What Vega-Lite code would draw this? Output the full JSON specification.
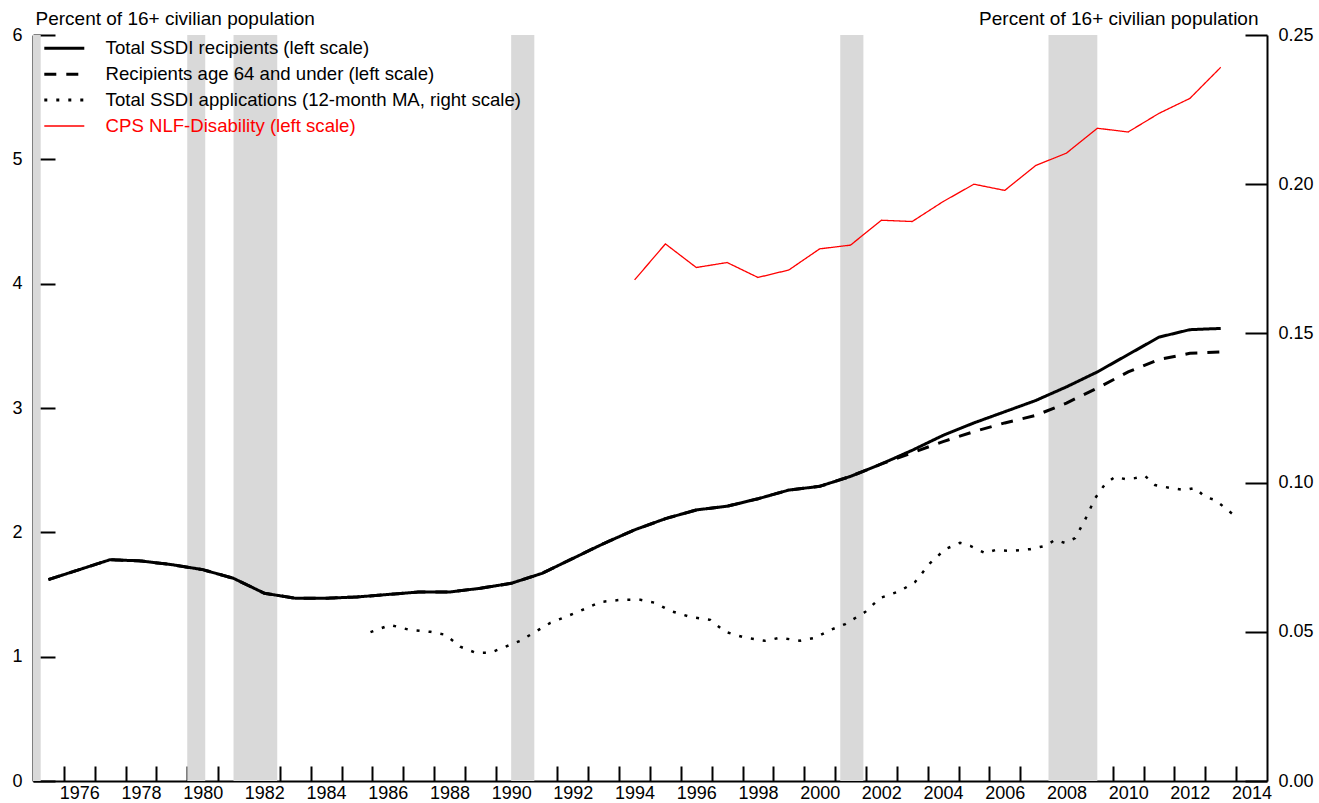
{
  "$schema": "https://vega.github.io/schema/vega-lite/v6.json",
  "width": 1234,
  "height": 746,
  "autosize": {"type": "none"},
  "padding": {"left": 33, "top": 35, "right": 52, "bottom": 22},
  "background": "white",
  "config": {
    "view": {"stroke": null},
    "font": "Liberation Sans",
    "legend": {
      "orient": "none",
      "legendX": 22,
      "legendY": 4,
      "padding": 0,
      "labelFontSize": 18.6,
      "labelFont": "Liberation Sans",
      "labelColor": "black",
      "symbolType": "stroke",
      "symbolSize": 1600,
      "labelOffset": 32,
      "rowPadding": 6.9,
      "labelLimit": 700
    }
  },
  "datasets": {
    "recessions": [
      {"t": 1973.83, "t_end": 1975.25},
      {"t": 1980.0, "t_end": 1980.583},
      {"t": 1981.5, "t_end": 1982.917},
      {"t": 1990.5, "t_end": 1991.25},
      {"t": 2001.167, "t_end": 2001.917},
      {"t": 2007.917, "t_end": 2009.5}
    ],
    "age64": [
      {"t": 1975.5, "v": 1.62, "series": "Recipients age 64 and under (left scale)"},
      {"t": 1976.5, "v": 1.70, "series": "Recipients age 64 and under (left scale)"},
      {"t": 1977.5, "v": 1.78, "series": "Recipients age 64 and under (left scale)"},
      {"t": 1978.5, "v": 1.77, "series": "Recipients age 64 and under (left scale)"},
      {"t": 1979.5, "v": 1.74, "series": "Recipients age 64 and under (left scale)"},
      {"t": 1980.5, "v": 1.70, "series": "Recipients age 64 and under (left scale)"},
      {"t": 1981.5, "v": 1.63, "series": "Recipients age 64 and under (left scale)"},
      {"t": 1982.5, "v": 1.51, "series": "Recipients age 64 and under (left scale)"},
      {"t": 1983.5, "v": 1.47, "series": "Recipients age 64 and under (left scale)"},
      {"t": 1984.5, "v": 1.47, "series": "Recipients age 64 and under (left scale)"},
      {"t": 1985.5, "v": 1.48, "series": "Recipients age 64 and under (left scale)"},
      {"t": 1986.5, "v": 1.50, "series": "Recipients age 64 and under (left scale)"},
      {"t": 1987.5, "v": 1.52, "series": "Recipients age 64 and under (left scale)"},
      {"t": 1988.5, "v": 1.52, "series": "Recipients age 64 and under (left scale)"},
      {"t": 1989.5, "v": 1.55, "series": "Recipients age 64 and under (left scale)"},
      {"t": 1990.5, "v": 1.59, "series": "Recipients age 64 and under (left scale)"},
      {"t": 1991.5, "v": 1.67, "series": "Recipients age 64 and under (left scale)"},
      {"t": 1992.5, "v": 1.79, "series": "Recipients age 64 and under (left scale)"},
      {"t": 1993.5, "v": 1.91, "series": "Recipients age 64 and under (left scale)"},
      {"t": 1994.5, "v": 2.02, "series": "Recipients age 64 and under (left scale)"},
      {"t": 1995.5, "v": 2.11, "series": "Recipients age 64 and under (left scale)"},
      {"t": 1996.5, "v": 2.18, "series": "Recipients age 64 and under (left scale)"},
      {"t": 1997.5, "v": 2.21, "series": "Recipients age 64 and under (left scale)"},
      {"t": 1998.5, "v": 2.27, "series": "Recipients age 64 and under (left scale)"},
      {"t": 1999.5, "v": 2.34, "series": "Recipients age 64 and under (left scale)"},
      {"t": 2000.5, "v": 2.37, "series": "Recipients age 64 and under (left scale)"},
      {"t": 2001.5, "v": 2.45, "series": "Recipients age 64 and under (left scale)"},
      {"t": 2002.5, "v": 2.55, "series": "Recipients age 64 and under (left scale)"},
      {"t": 2003.5, "v": 2.64, "series": "Recipients age 64 and under (left scale)"},
      {"t": 2004.5, "v": 2.73, "series": "Recipients age 64 and under (left scale)"},
      {"t": 2005.5, "v": 2.81, "series": "Recipients age 64 and under (left scale)"},
      {"t": 2006.5, "v": 2.88, "series": "Recipients age 64 and under (left scale)"},
      {"t": 2007.5, "v": 2.94, "series": "Recipients age 64 and under (left scale)"},
      {"t": 2008.5, "v": 3.04, "series": "Recipients age 64 and under (left scale)"},
      {"t": 2009.5, "v": 3.16, "series": "Recipients age 64 and under (left scale)"},
      {"t": 2010.5, "v": 3.29, "series": "Recipients age 64 and under (left scale)"},
      {"t": 2011.5, "v": 3.39, "series": "Recipients age 64 and under (left scale)"},
      {"t": 2012.5, "v": 3.44, "series": "Recipients age 64 and under (left scale)"},
      {"t": 2013.5, "v": 3.45, "series": "Recipients age 64 and under (left scale)"}
    ],
    "main": [
      {"t": 1975.5, "v": 1.62, "series": "Total SSDI recipients (left scale)"},
      {"t": 1976.5, "v": 1.70, "series": "Total SSDI recipients (left scale)"},
      {"t": 1977.5, "v": 1.78, "series": "Total SSDI recipients (left scale)"},
      {"t": 1978.5, "v": 1.77, "series": "Total SSDI recipients (left scale)"},
      {"t": 1979.5, "v": 1.74, "series": "Total SSDI recipients (left scale)"},
      {"t": 1980.5, "v": 1.70, "series": "Total SSDI recipients (left scale)"},
      {"t": 1981.5, "v": 1.63, "series": "Total SSDI recipients (left scale)"},
      {"t": 1982.5, "v": 1.51, "series": "Total SSDI recipients (left scale)"},
      {"t": 1983.5, "v": 1.47, "series": "Total SSDI recipients (left scale)"},
      {"t": 1984.5, "v": 1.47, "series": "Total SSDI recipients (left scale)"},
      {"t": 1985.5, "v": 1.48, "series": "Total SSDI recipients (left scale)"},
      {"t": 1986.5, "v": 1.50, "series": "Total SSDI recipients (left scale)"},
      {"t": 1987.5, "v": 1.52, "series": "Total SSDI recipients (left scale)"},
      {"t": 1988.5, "v": 1.52, "series": "Total SSDI recipients (left scale)"},
      {"t": 1989.5, "v": 1.55, "series": "Total SSDI recipients (left scale)"},
      {"t": 1990.5, "v": 1.59, "series": "Total SSDI recipients (left scale)"},
      {"t": 1991.5, "v": 1.67, "series": "Total SSDI recipients (left scale)"},
      {"t": 1992.5, "v": 1.79, "series": "Total SSDI recipients (left scale)"},
      {"t": 1993.5, "v": 1.91, "series": "Total SSDI recipients (left scale)"},
      {"t": 1994.5, "v": 2.02, "series": "Total SSDI recipients (left scale)"},
      {"t": 1995.5, "v": 2.11, "series": "Total SSDI recipients (left scale)"},
      {"t": 1996.5, "v": 2.18, "series": "Total SSDI recipients (left scale)"},
      {"t": 1997.5, "v": 2.21, "series": "Total SSDI recipients (left scale)"},
      {"t": 1998.5, "v": 2.27, "series": "Total SSDI recipients (left scale)"},
      {"t": 1999.5, "v": 2.34, "series": "Total SSDI recipients (left scale)"},
      {"t": 2000.5, "v": 2.37, "series": "Total SSDI recipients (left scale)"},
      {"t": 2001.5, "v": 2.45, "series": "Total SSDI recipients (left scale)"},
      {"t": 2002.5, "v": 2.55, "series": "Total SSDI recipients (left scale)"},
      {"t": 2003.5, "v": 2.66, "series": "Total SSDI recipients (left scale)"},
      {"t": 2004.5, "v": 2.78, "series": "Total SSDI recipients (left scale)"},
      {"t": 2005.5, "v": 2.88, "series": "Total SSDI recipients (left scale)"},
      {"t": 2006.5, "v": 2.97, "series": "Total SSDI recipients (left scale)"},
      {"t": 2007.5, "v": 3.06, "series": "Total SSDI recipients (left scale)"},
      {"t": 2008.5, "v": 3.17, "series": "Total SSDI recipients (left scale)"},
      {"t": 2009.5, "v": 3.29, "series": "Total SSDI recipients (left scale)"},
      {"t": 2010.5, "v": 3.43, "series": "Total SSDI recipients (left scale)"},
      {"t": 2011.5, "v": 3.57, "series": "Total SSDI recipients (left scale)"},
      {"t": 2012.5, "v": 3.63, "series": "Total SSDI recipients (left scale)"},
      {"t": 2013.5, "v": 3.64, "series": "Total SSDI recipients (left scale)"},
      {"t": 1994.5, "v": 4.03, "series": "CPS NLF-Disability (left scale)"},
      {"t": 1995.5, "v": 4.32, "series": "CPS NLF-Disability (left scale)"},
      {"t": 1996.5, "v": 4.13, "series": "CPS NLF-Disability (left scale)"},
      {"t": 1997.5, "v": 4.17, "series": "CPS NLF-Disability (left scale)"},
      {"t": 1998.5, "v": 4.05, "series": "CPS NLF-Disability (left scale)"},
      {"t": 1999.5, "v": 4.11, "series": "CPS NLF-Disability (left scale)"},
      {"t": 2000.5, "v": 4.28, "series": "CPS NLF-Disability (left scale)"},
      {"t": 2001.5, "v": 4.31, "series": "CPS NLF-Disability (left scale)"},
      {"t": 2002.5, "v": 4.51, "series": "CPS NLF-Disability (left scale)"},
      {"t": 2003.5, "v": 4.50, "series": "CPS NLF-Disability (left scale)"},
      {"t": 2004.5, "v": 4.66, "series": "CPS NLF-Disability (left scale)"},
      {"t": 2005.5, "v": 4.80, "series": "CPS NLF-Disability (left scale)"},
      {"t": 2006.5, "v": 4.75, "series": "CPS NLF-Disability (left scale)"},
      {"t": 2007.5, "v": 4.95, "series": "CPS NLF-Disability (left scale)"},
      {"t": 2008.5, "v": 5.05, "series": "CPS NLF-Disability (left scale)"},
      {"t": 2009.5, "v": 5.25, "series": "CPS NLF-Disability (left scale)"},
      {"t": 2010.5, "v": 5.22, "series": "CPS NLF-Disability (left scale)"},
      {"t": 2011.5, "v": 5.37, "series": "CPS NLF-Disability (left scale)"},
      {"t": 2012.5, "v": 5.49, "series": "CPS NLF-Disability (left scale)"},
      {"t": 2013.5, "v": 5.74, "series": "CPS NLF-Disability (left scale)"}
    ],
    "apps": [
      {"t": 1985.94, "v": 0.0499, "series": "Total SSDI applications (12-month MA, right scale)"},
      {"t": 1986.58, "v": 0.0523, "series": "Total SSDI applications (12-month MA, right scale)"},
      {"t": 1987.23, "v": 0.0506, "series": "Total SSDI applications (12-month MA, right scale)"},
      {"t": 1987.88, "v": 0.0500, "series": "Total SSDI applications (12-month MA, right scale)"},
      {"t": 1988.37, "v": 0.0490, "series": "Total SSDI applications (12-month MA, right scale)"},
      {"t": 1988.85, "v": 0.0450, "series": "Total SSDI applications (12-month MA, right scale)"},
      {"t": 1989.34, "v": 0.0430, "series": "Total SSDI applications (12-month MA, right scale)"},
      {"t": 1989.83, "v": 0.0430, "series": "Total SSDI applications (12-month MA, right scale)"},
      {"t": 1990.31, "v": 0.0450, "series": "Total SSDI applications (12-month MA, right scale)"},
      {"t": 1990.80, "v": 0.0470, "series": "Total SSDI applications (12-month MA, right scale)"},
      {"t": 1991.28, "v": 0.0500, "series": "Total SSDI applications (12-month MA, right scale)"},
      {"t": 1991.77, "v": 0.0530, "series": "Total SSDI applications (12-month MA, right scale)"},
      {"t": 1992.26, "v": 0.0550, "series": "Total SSDI applications (12-month MA, right scale)"},
      {"t": 1992.74, "v": 0.0570, "series": "Total SSDI applications (12-month MA, right scale)"},
      {"t": 1993.39, "v": 0.0600, "series": "Total SSDI applications (12-month MA, right scale)"},
      {"t": 1994.04, "v": 0.0607, "series": "Total SSDI applications (12-month MA, right scale)"},
      {"t": 1994.69, "v": 0.0607, "series": "Total SSDI applications (12-month MA, right scale)"},
      {"t": 1995.17, "v": 0.0597, "series": "Total SSDI applications (12-month MA, right scale)"},
      {"t": 1995.66, "v": 0.0570, "series": "Total SSDI applications (12-month MA, right scale)"},
      {"t": 1996.30, "v": 0.0550, "series": "Total SSDI applications (12-month MA, right scale)"},
      {"t": 1996.95, "v": 0.0540, "series": "Total SSDI applications (12-month MA, right scale)"},
      {"t": 1997.44, "v": 0.0500, "series": "Total SSDI applications (12-month MA, right scale)"},
      {"t": 1998.09, "v": 0.0480, "series": "Total SSDI applications (12-month MA, right scale)"},
      {"t": 1998.73, "v": 0.0470, "series": "Total SSDI applications (12-month MA, right scale)"},
      {"t": 1999.22, "v": 0.0480, "series": "Total SSDI applications (12-month MA, right scale)"},
      {"t": 1999.87, "v": 0.0470, "series": "Total SSDI applications (12-month MA, right scale)"},
      {"t": 2000.35, "v": 0.0480, "series": "Total SSDI applications (12-month MA, right scale)"},
      {"t": 2000.84, "v": 0.0506, "series": "Total SSDI applications (12-month MA, right scale)"},
      {"t": 2001.33, "v": 0.0526, "series": "Total SSDI applications (12-month MA, right scale)"},
      {"t": 2001.97, "v": 0.0566, "series": "Total SSDI applications (12-month MA, right scale)"},
      {"t": 2002.46, "v": 0.0613, "series": "Total SSDI applications (12-month MA, right scale)"},
      {"t": 2003.11, "v": 0.0637, "series": "Total SSDI applications (12-month MA, right scale)"},
      {"t": 2003.59, "v": 0.0667, "series": "Total SSDI applications (12-month MA, right scale)"},
      {"t": 2004.08, "v": 0.0730, "series": "Total SSDI applications (12-month MA, right scale)"},
      {"t": 2004.57, "v": 0.0777, "series": "Total SSDI applications (12-month MA, right scale)"},
      {"t": 2005.05, "v": 0.0798, "series": "Total SSDI applications (12-month MA, right scale)"},
      {"t": 2005.38, "v": 0.0788, "series": "Total SSDI applications (12-month MA, right scale)"},
      {"t": 2005.86, "v": 0.0764, "series": "Total SSDI applications (12-month MA, right scale)"},
      {"t": 2006.19, "v": 0.0774, "series": "Total SSDI applications (12-month MA, right scale)"},
      {"t": 2006.67, "v": 0.0771, "series": "Total SSDI applications (12-month MA, right scale)"},
      {"t": 2007.32, "v": 0.0777, "series": "Total SSDI applications (12-month MA, right scale)"},
      {"t": 2007.81, "v": 0.0788, "series": "Total SSDI applications (12-month MA, right scale)"},
      {"t": 2008.13, "v": 0.0808, "series": "Total SSDI applications (12-month MA, right scale)"},
      {"t": 2008.45, "v": 0.0798, "series": "Total SSDI applications (12-month MA, right scale)"},
      {"t": 2008.78, "v": 0.0814, "series": "Total SSDI applications (12-month MA, right scale)"},
      {"t": 2009.10, "v": 0.0875, "series": "Total SSDI applications (12-month MA, right scale)"},
      {"t": 2009.43, "v": 0.0948, "series": "Total SSDI applications (12-month MA, right scale)"},
      {"t": 2009.75, "v": 0.0995, "series": "Total SSDI applications (12-month MA, right scale)"},
      {"t": 2010.07, "v": 0.1019, "series": "Total SSDI applications (12-month MA, right scale)"},
      {"t": 2010.40, "v": 0.1012, "series": "Total SSDI applications (12-month MA, right scale)"},
      {"t": 2010.72, "v": 0.1015, "series": "Total SSDI applications (12-month MA, right scale)"},
      {"t": 2011.05, "v": 0.1022, "series": "Total SSDI applications (12-month MA, right scale)"},
      {"t": 2011.37, "v": 0.0992, "series": "Total SSDI applications (12-month MA, right scale)"},
      {"t": 2011.86, "v": 0.0982, "series": "Total SSDI applications (12-month MA, right scale)"},
      {"t": 2012.34, "v": 0.0975, "series": "Total SSDI applications (12-month MA, right scale)"},
      {"t": 2012.67, "v": 0.0982, "series": "Total SSDI applications (12-month MA, right scale)"},
      {"t": 2012.99, "v": 0.0952, "series": "Total SSDI applications (12-month MA, right scale)"},
      {"t": 2013.32, "v": 0.0942, "series": "Total SSDI applications (12-month MA, right scale)"},
      {"t": 2013.64, "v": 0.0915, "series": "Total SSDI applications (12-month MA, right scale)"},
      {"t": 2013.93, "v": 0.0891, "series": "Total SSDI applications (12-month MA, right scale)"}
    ]
  },
  "encoding": {
    "x": {
      "field": "t",
      "type": "quantitative",
      "scale": {"domain": [1975, 2015], "nice": false, "zero": false},
      "axis": {
        "values": [1976,1977,1978,1979,1980,1981,1982,1983,1984,1985,1986,1987,1988,1989,1990,1991,1992,1993,1994,1995,1996,1997,1998,1999,2000,2001,2002,2003,2004,2005,2006,2007,2008,2009,2010,2011,2012,2013,2014],
        "format": "d",
        "labelExpr": "datum.value % 2 == 0 ? datum.label : ''",
        "labelOffset": 15.4,
        "labelFlush": false,
        "labelOverlap": false,
        "labelBound": false,
        "tickSize": -15,
        "tickWidth": 2,
        "tickColor": "black",
        "labelPadding": 18,
        "labelFontSize": 18,
        "labelFont": "Liberation Sans",
        "labelColor": "black",
        "domainColor": "black",
        "domainWidth": 2,
        "grid": false,
        "title": null
      }
    }
  },
  "layer": [
    {
      "data": {"name": "recessions"},
      "mark": {"type": "rect", "color": "#d9d9d9", "clip": true},
      "encoding": {"x2": {"field": "t_end"}}
    },
    {
      "encoding": {
        "y": {
          "field": "v",
          "type": "quantitative",
          "scale": {"domain": [0, 6], "nice": false, "zero": true},
          "axis": {
            "orient": "left",
            "values": [0,1,2,3,4,5,6],
            "format": "d",
            "tickSize": -22,
            "tickWidth": 2,
            "tickColor": "black",
            "labelPadding": 33,
            "labelFontSize": 18,
            "labelFont": "Liberation Sans",
            "labelColor": "black",
            "domainColor": "black",
            "domainWidth": 2,
            "grid": false,
            "title": "Percent of 16+ civilian population",
            "titleAngle": 0,
            "titleX": 2,
            "titleY": -11,
            "titleAlign": "left",
            "titleBaseline": "alphabetic",
            "titleFontSize": 19,
            "titleFontWeight": "normal",
            "titleFont": "Liberation Sans",
            "titleColor": "black"
          }
        },
        "color": {
          "field": "series",
          "type": "nominal",
          "scale": {
            "domain": ["Total SSDI recipients (left scale)", "Recipients age 64 and under (left scale)", "Total SSDI applications (12-month MA, right scale)", "CPS NLF-Disability (left scale)"],
            "range": ["#000000", "#000000", "#000000", "#ff0000"]
          },
          "legend": {
            "title": null,
            "encode": {
              "labels": {"update": {"fill": {"signal": "datum.label == 'CPS NLF-Disability (left scale)' ? '#ff0000' : '#000000'"}}},
              "symbols": {"update": {
                "strokeDash": {"signal": "datum.label == 'Recipients age 64 and under (left scale)' ? [12, 10] : (datum.label == 'Total SSDI applications (12-month MA, right scale)' ? [3, 9] : [1, 0])"},
                "strokeWidth": {"signal": "datum.label == 'CPS NLF-Disability (left scale)' ? 1.3 : 3"}
              }}
            }
          }
        },
        "strokeDash": {
          "field": "series",
          "type": "nominal",
          "scale": {
            "domain": ["Total SSDI recipients (left scale)", "Recipients age 64 and under (left scale)", "Total SSDI applications (12-month MA, right scale)", "CPS NLF-Disability (left scale)"],
            "range": [[1, 0], [12, 10], [3, 9], [1, 0]]
          },
          "legend": null
        },
        "strokeWidth": {
          "field": "series",
          "type": "nominal",
          "scale": {
            "type": "ordinal",
            "domain": ["Total SSDI recipients (left scale)", "Recipients age 64 and under (left scale)", "Total SSDI applications (12-month MA, right scale)", "CPS NLF-Disability (left scale)"],
            "range": [3, 3, 3, 1.3]
          },
          "legend": null
        }
      },
      "layer": [
        {"data": {"name": "age64"}, "mark": {"type": "line"}},
        {"data": {"name": "main"}, "mark": {"type": "line"}}
      ]
    },
    {
      "data": {"name": "apps"},
      "mark": {"type": "line"},
      "encoding": {
        "y": {
          "field": "v",
          "type": "quantitative",
          "scale": {"domain": [0, 0.25], "nice": false, "zero": true},
          "axis": {
            "orient": "right",
            "values": [0, 0.05, 0.1, 0.15, 0.2, 0.25],
            "format": ".2f",
            "tickSize": -22,
            "tickWidth": 2,
            "tickColor": "black",
            "labelPadding": 33,
            "labelFontSize": 18,
            "labelFont": "Liberation Sans",
            "labelColor": "black",
            "domainColor": "black",
            "domainWidth": 2,
            "grid": false,
            "title": "Percent of 16+ civilian population",
            "titleAngle": 0,
            "titleX": -9,
            "titleY": -11,
            "titleAlign": "right",
            "titleBaseline": "alphabetic",
            "titleFontSize": 19,
            "titleFontWeight": "normal",
            "titleFont": "Liberation Sans",
            "titleColor": "black"
          }
        },
        "color": {
          "field": "series",
          "type": "nominal",
          "legend": {
            "title": null,
            "encode": {
              "labels": {"update": {"fill": {"signal": "datum.label == 'CPS NLF-Disability (left scale)' ? '#ff0000' : '#000000'"}}},
              "symbols": {"update": {
                "strokeDash": {"signal": "datum.label == 'Recipients age 64 and under (left scale)' ? [12, 10] : (datum.label == 'Total SSDI applications (12-month MA, right scale)' ? [3, 9] : [1, 0])"},
                "strokeWidth": {"signal": "datum.label == 'CPS NLF-Disability (left scale)' ? 1.3 : 3"}
              }}
            }
          }
        },
        "strokeDash": {"field": "series", "type": "nominal", "legend": null},
        "strokeWidth": {"field": "series", "type": "nominal", "legend": null}
      }
    }
  ],
  "resolve": {"scale": {"y": "independent"}}
}
